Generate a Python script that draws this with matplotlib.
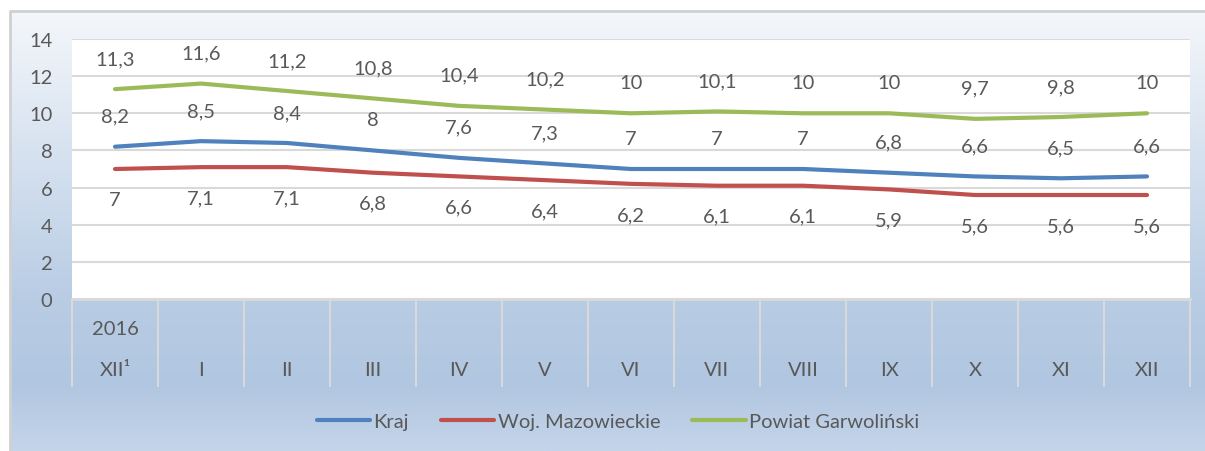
import numpy as np
import matplotlib.pyplot as plt
from matplotlib.colors import LinearSegmentedColormap
from matplotlib import transforms

plt.rcParams['font.family'] = ['Lato', 'DejaVu Sans']

# Data
months = ["XII\u00b9", "I", "II", "III", "IV", "V", "VI", "VII", "VIII", "IX", "X", "XI", "XII"]
kraj = [8.2, 8.5, 8.4, 8.0, 7.6, 7.3, 7.0, 7.0, 7.0, 6.8, 6.6, 6.5, 6.6]
mazowieckie = [7.0, 7.1, 7.1, 6.8, 6.6, 6.4, 6.2, 6.1, 6.1, 5.9, 5.6, 5.6, 5.6]
garwolinski = [11.3, 11.6, 11.2, 10.8, 10.4, 10.2, 10.0, 10.1, 10.0, 10.0, 9.7, 9.8, 10.0]
yticks = [0, 2, 4, 6, 8, 10, 12, 14]

W, H = 1205, 452
txt = '#595959'
grid = '#D9D9D9'
fs = 14.5

fig = plt.figure(figsize=(W / 100, H / 100), dpi=100)
fig.patch.set_facecolor('white')

# background gradient of the chart frame
bg = fig.add_axes([0, 0, 1, 1], zorder=0)
bg.set_xlim(0, W)
bg.set_ylim(H, 0)
bg.axis('off')
cmap = LinearSegmentedColormap.from_list('bgc', [(0.0, '#F4F7FB'), (0.66, '#B8CCE4'),
                                               (0.85, '#B1C6E0'), (1.0, '#C4D5EA')])
grad = np.linspace(0, 1, 256).reshape(-1, 1)
bg.imshow(grad, cmap=cmap, extent=[10, W, H, 12], aspect='auto')
bg.plot([10, 10, W], [H, 12, 12], color='#D0D0D0', lw=2)

ax = fig.add_axes([72 / W, (H - 300) / H, (1190 - 72) / W, 260 / H], zorder=1)
ax.set_facecolor('white')
x = np.arange(len(months))

ax.plot(x, kraj, color='#4F81BD', lw=3, label='Kraj', solid_capstyle='round')
ax.plot(x, mazowieckie, color='#C0504D', lw=3, label='Woj. Mazowieckie', solid_capstyle='round')
ax.plot(x, garwolinski, color='#9BBB59', lw=3, label='Powiat Garwoli\u0144ski', solid_capstyle='round')

def fmt(v):
    return ('%g' % v).replace('.', ',')

for xi, v in zip(x, garwolinski):
    ax.annotate(fmt(v), (xi, v), xytext=(0, 22), textcoords='offset points',
                ha='center', va='center', fontsize=fs, color=txt)
for xi, v in zip(x, kraj):
    ax.annotate(fmt(v), (xi, v), xytext=(0, 22), textcoords='offset points',
                ha='center', va='center', fontsize=fs, color=txt)
for xi, v in zip(x, mazowieckie):
    ax.annotate(fmt(v), (xi, v), xytext=(0, -22), textcoords='offset points',
                ha='center', va='center', fontsize=fs, color=txt)

ax.set_xlim(-0.5, len(months) - 0.5)
ax.set_ylim(0, 14)
ax.set_yticks(yticks)
ax.set_yticklabels([str(t) for t in yticks], fontsize=fs, color=txt)
ax.tick_params(axis='y', length=0, pad=14)
ax.set_xticks(x)
ax.set_xticklabels(months, fontsize=fs, color=txt)
ax.tick_params(axis='x', length=0, pad=45)
ax.yaxis.grid(True, color=grid, lw=1.5)
ax.set_axisbelow(True)
for s in ax.spines.values():
    s.set_visible(False)

# category separators below the plot area
trans = transforms.blended_transform_factory(ax.transData, ax.transAxes)
ax.vlines(np.arange(len(months) + 1) - 0.5, -88 / 260, 0, transform=trans,
          color=grid, lw=1.5, clip_on=False)
ax.plot([-0.5, len(months) - 0.5], [0, 0], color=grid, lw=2, clip_on=False)
ax.text(0, -30 / 260, '2016', transform=trans, ha='center', va='center',
        fontsize=fs, color=txt)

fig.legend(loc='center', bbox_to_anchor=(618 / W, (H - 422) / H), ncol=3,
           frameon=False, fontsize=fs, labelcolor=txt, handlelength=2.65,
           handletextpad=0.15, columnspacing=1.6)

fig.savefig('out.png', dpi=100)
